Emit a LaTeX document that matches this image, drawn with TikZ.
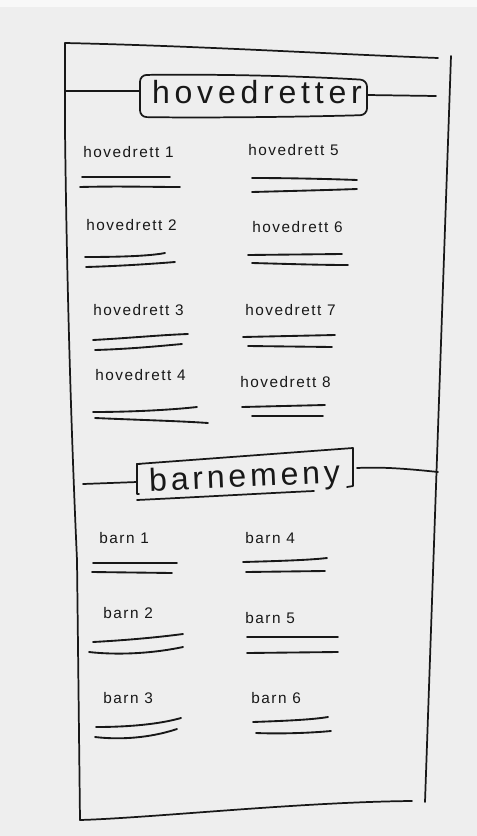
\documentclass[tikz,border=0pt]{standalone}
\usepackage{fontspec}
\setmainfont{Liberation Sans}
\newfontfamily\headfont[LetterSpace=15]{Liberation Sans}
\newfontfamily\headfontb[LetterSpace=12]{Liberation Sans}
\newfontfamily\itemfont[LetterSpace=10]{Liberation Sans}
\definecolor{paper}{RGB}{238,238,238}
\definecolor{ink}{RGB}{24,24,24}
\begin{document}
\begin{tikzpicture}[x=0.75pt,y=-0.75pt,line cap=round,line join=round,
  ink/.style={draw=ink,line width=1.3pt},
  rulestroke/.style={draw=ink,line width=1.4pt},
  headtext/.style={inner sep=0pt,text=ink,font=\headfont\fontsize{24}{26}\selectfont},
  itemtext/.style={inner sep=0pt,anchor=base west,text=ink,font=\itemfont\fontsize{11.5}{13}\selectfont}]
\useasboundingbox (0,0) rectangle (477,836);
\fill[paper] (0,0) rectangle (477,836);
\fill[white!60!paper] (0,0) rectangle (477,7);

% outer frame
\coordinate (tl) at (65,43);
\coordinate (tr) at (438,58);
\coordinate (rt) at (451,56);
\coordinate (rb) at (425,802);
\coordinate (bl) at (80,820);
\coordinate (br) at (412,801);
\draw[ink] (tl) .. controls (200,46) and (330,54) .. (tr);
\draw[ink] (tl) -- (65,130) .. controls (67,300) and (72,450) .. (77,560) -- (bl);
\draw[ink] (bl) .. controls (150,818) and (300,802) .. (br);
\draw[ink] (rt) -- (rb);

% header hovedretter
\draw[ink,rounded corners=5pt] (140,75) .. controls (220,74) and (300,76) .. (367,80) -- (367,115) .. controls (300,117) and (200,118) .. (140,117) -- cycle;
\node[headtext,anchor=base] (htitle) at (257,103) {hovedretter};
\coordinate (hboxw) at (140,91);
\coordinate (hboxe) at (367,95);
\coordinate (hfl) at (66,91);
\coordinate (hfr) at (436,96);
\draw[ink] (hfl) -- (hboxw);
\draw[ink] (hboxe) -- (hfr);

% main dishes
\node[itemtext] (h1) at (83,157) {hovedrett 1};
\node[itemtext] (h5) at (248,155) {hovedrett 5};
\node[itemtext] (h2) at (86,230) {hovedrett 2};
\node[itemtext] (h6) at (252,232) {hovedrett 6};
\node[itemtext] (h3) at (93,315) {hovedrett 3};
\node[itemtext] (h7) at (245,315) {hovedrett 7};
\node[itemtext] (h4) at (95,380) {hovedrett 4};
\node[itemtext] (h8) at (240,387) {hovedrett 8};

\draw[rulestroke] (82,177) -- (170,177);
\draw[rulestroke] (80,187) .. controls (120,186) and (150,187) .. (180,187);
\draw[rulestroke] (252,178) .. controls (290,178) and (330,179) .. (357,180);
\draw[rulestroke] (252,192) .. controls (290,191) and (330,190) .. (357,189);
\draw[rulestroke] (85,257) .. controls (120,257) and (150,256) .. (165,253);
\draw[rulestroke] (86,267) .. controls (120,266) and (150,264) .. (175,262);
\draw[rulestroke] (248,255) -- (342,254);
\draw[rulestroke] (252,263) .. controls (290,264) and (320,265) .. (348,265);
\draw[rulestroke] (93,340) .. controls (130,338) and (160,335) .. (188,334);
\draw[rulestroke] (95,350) .. controls (130,349) and (160,346) .. (182,344);
\draw[rulestroke] (243,337) -- (335,335);
\draw[rulestroke] (248,346) -- (332,347);
\draw[rulestroke] (93,412) .. controls (130,412) and (170,410) .. (197,407);
\draw[rulestroke] (95,418) .. controls (140,420) and (180,421) .. (208,423);
\draw[rulestroke] (242,407) -- (325,405);
\draw[rulestroke] (252,416) -- (323,416);

% header barnemeny
\draw[ink] (137,464) -- (353,448) -- (353,486) -- (347,487);
\draw[ink] (140,464) -- (137,464) -- (137,494) -- (139,494);
\draw[ink] (137,500) .. controls (200,497) and (270,493) .. (314,491);
\node[headtext,anchor=base,rotate=2.5,font=\headfontb\fontsize{24}{26}\selectfont] (btitle) at (245,487) {barnemeny};
\coordinate (bboxw) at (137,482);
\coordinate (bboxe) at (357,468);
\coordinate (bfl) at (83,484);
\coordinate (bfr) at (438,472);
\draw[ink] (bfl) -- (bboxw);
\draw[ink] (bboxe) .. controls (380,467) and (400,468) .. (bfr);

% children menu
\node[itemtext] (b1) at (99,543) {barn 1};
\node[itemtext] (b4) at (245,543) {barn 4};
\node[itemtext] (b2) at (103,618) {barn 2};
\node[itemtext] (b5) at (245,623) {barn 5};
\node[itemtext] (b3) at (103,703) {barn 3};
\node[itemtext] (b6) at (251,703) {barn 6};

\draw[rulestroke] (93,563) -- (177,563);
\draw[rulestroke] (92,572) -- (172,573);
\draw[rulestroke] (243,562) .. controls (280,561) and (310,560) .. (327,558);
\draw[rulestroke] (246,572) -- (325,571);
\draw[rulestroke] (93,642) .. controls (130,640) and (160,637) .. (183,634);
\draw[rulestroke] (89,652) .. controls (115,655) and (150,654) .. (183,647);
\draw[rulestroke] (247,637) -- (338,637);
\draw[rulestroke] (247,653) -- (338,652);
\draw[rulestroke] (96,727) .. controls (130,727) and (160,724) .. (181,718);
\draw[rulestroke] (95,737) .. controls (120,740) and (150,738) .. (177,729);
\draw[rulestroke] (253,722) .. controls (280,721) and (310,720) .. (328,717);
\draw[rulestroke] (256,733) .. controls (280,734) and (310,733) .. (331,731);
\end{tikzpicture}
\end{document}
